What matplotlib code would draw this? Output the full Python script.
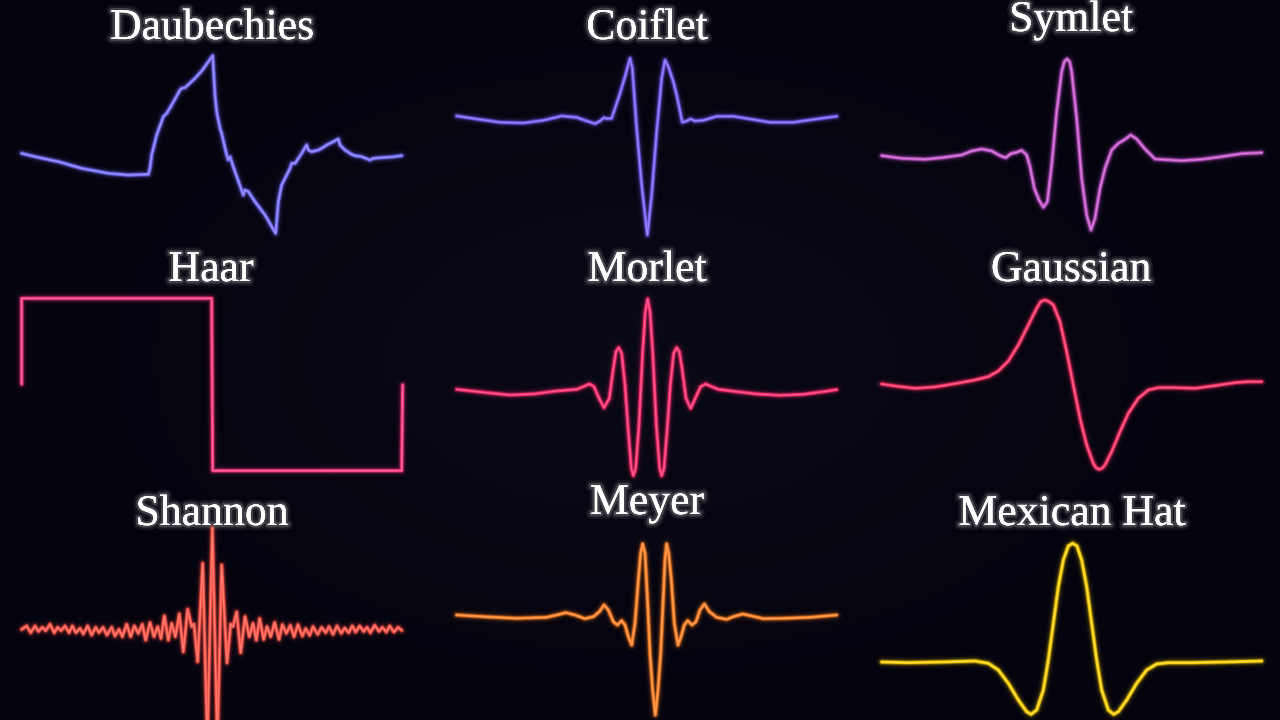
import numpy as np
import matplotlib
matplotlib.use('Agg')
import matplotlib.pyplot as plt
import matplotlib.patheffects as pe
from matplotlib.colors import to_rgb

# wavelet shapes (t = sample position, y = amplitude)
daub_t = [20, 60, 130, 200, 280, 340, 400, 405, 410, 425, 445, 455, 470, 495, 500, 510, 540, 560, 593, 600,
          605, 615, 620, 635, 640, 645, 660, 685, 690, 700, 720, 750, 782, 790, 800, 810, 825, 830, 840, 860,
          875, 880, 890, 910, 920, 935, 955, 970, 975, 990, 1010, 1020, 1040, 1065, 1075, 1100, 1130, 1160]
daub_y = [5, -5, -20, -40, -55, -60, -58, -40, 0, 60, 115, 125, 150, 195, 200, 202, 230, 252, 298, 180,
          130, 80, 65, 0, -15, -5, -50, -120, -105, -110, -140, -180, -235, -140, -90, -70, -40, -25, -25, 5,
          30, 15, 10, 15, 20, 30, 40, 48, 30, 15, 2, -2, -5, -15, -10, -8, -6, -2]

coif_t = [20, 80, 150, 220, 280, 335, 380, 410, 435, 450, 462, 470, 485, 495, 510, 525, 540, 547, 560, 575,
          592, 605, 620, 635, 645, 655, 670, 680, 697, 710, 722, 735, 760, 800, 850, 900, 960, 1030, 1100, 1160]
coif_y = [2, -7, -17, -19, -11, 2, -2, -13, -21, -13, -3, -6, -5, 25, 70, 120, 175, 145, -35, -205,
          -355, -235, -45, 115, 170, 150, 105, 65, -17, -13, -7, -13, -11, 1, 1, -7, -17, -17, -7, 1]

sym_t = [20, 80, 150, 200, 260, 290, 320, 350, 375, 392, 408, 425, 440, 455, 465, 478, 492, 505, 517, 530,
         545, 560, 568, 576, 584, 590, 605, 620, 635, 648, 660, 675, 690, 710, 730, 750, 767, 785, 810, 840,
         870, 920, 980, 1040, 1100, 1160]
sym_y = [3, -5, -8, -3, 5, 17, 23, 17, 3, -3, 9, 13, 19, 5, -30, -95, -130, -152, -135, -25,
         135, 255, 285, 293, 285, 255, 115, -65, -175, -220, -185, -95, -35, 20, 40, 52, 65, 53, 23, -7,
         -9, -12, -8, 0, 9, 12]

haar_t = [20, 20, 590, 593, 1160, 1163]
haar_y = [1, 258, 258, -259, -259, -2]

morlet_t = [20, 100, 180, 250, 320, 380, 400, 418, 432, 445, 462, 478, 490, 498, 506, 515, 525, 535, 544, 550,
            557, 567, 578, 586, 593, 600, 608, 619, 629, 635, 642, 651, 661, 671, 680, 688, 696, 708, 722, 738,
            752, 767, 785, 805, 860, 920, 990, 1060, 1120, 1160]
morlet_y = [2, -7, -15, -12, -3, 2, 10, 18, 10, -20, -53, -25, 65, 115, 127, 110, 15, -125, -235, -257,
            -235, -105, 115, 235, 273, 235, 115, -105, -235, -257, -235, -125, 15, 110, 127, 115, 65, -25, -55, -20,
            10, 18, 10, 2, -5, -12, -16, -13, -5, 1]

gauss_t = [20, 60, 120, 180, 240, 300, 340, 370, 400, 430, 460, 485, 497, 510, 522, 535, 555, 575, 595, 615,
           635, 655, 663, 672, 681, 690, 710, 735, 760, 790, 820, 850, 900, 960, 1020, 1080, 1120, 1160]
gauss_y = [3, -3, -10, -6, 4, 15, 25, 42, 72, 120, 180, 230, 250, 255, 250, 240, 190, 100, 0, -100,
           -180, -235, -248, -253, -250, -240, -200, -140, -85, -40, -15, -8, -8, -10, -2, 7, 10, 10]

shannon_t = [20, 35, 47, 60, 70, 82, 92, 105, 118, 128, 138, 150, 162, 172, 183, 195, 205, 218, 230, 242,
             252, 264, 276, 290, 300, 312, 322, 335, 347, 358, 370, 382, 392, 405, 417, 428, 438, 448, 460, 470,
             481, 493, 505, 518, 530, 537, 548, 563, 577, 592, 607, 620, 636, 647, 654, 665, 677, 690, 703, 714,
             724, 734, 746, 756, 767, 779, 792, 802, 814, 826, 837, 849, 862, 872, 884, 894, 908, 920, 932, 942,
             954, 966, 979, 989, 1001, 1012, 1022, 1034, 1046, 1056, 1066, 1079, 1092, 1102, 1114, 1124, 1137,
             1149, 1160]
shannon_y = [0, 10, -10, 10, -6, 6, -4, 15, -10, 6, -4, 10, -10, 10, -10, 3, -14, 10, -17, 6,
             -10, 6, -17, 6, -20, 0, -22, 15, -22, 10, -12, 15, -32, 20, -22, 8, -27, 40, -32, 18,
             -22, 46, -67, 60, 8, 16, -97, 198, -340, 303, -340, 193, -100, 16, 8, 52, -70, 38, -22, 18,
             -32, 32, -30, 8, -22, 20, -30, 14, -12, 12, -22, 14, -20, 2, -18, 8, -15, 6, -10, 8,
             -15, 10, -12, 4, -10, 10, -8, 10, -6, 6, -10, 12, -6, 6, -8, 10, -8, 6, -3]

meyer_t = [20, 100, 200, 290, 320, 348, 375, 405, 430, 448, 462, 475, 490, 502, 515, 525, 535, 545, 555, 565,
           572, 578, 585, 592, 600, 608, 616, 624, 632, 640, 645, 650, 656, 664, 673, 684, 693, 703, 713, 726,
           738, 750, 763, 778, 800, 830, 850, 878, 905, 940, 1000, 1080, 1160]
meyer_y = [0, -5, -10, -7, 0, 7, 0, -11, -5, 10, 30, 15, -20, -30, -17, -30, -65, -90, -25, 105,
           185, 213, 185, 55, -115, -225, -300, -225, -115, 55, 165, 213, 185, 105, -25, -90, -65, -30, -17, -30,
           -20, 15, 33, 10, -7, -13, -5, 3, -3, -11, -10, -7, 0]

mex_t = [20, 100, 200, 300, 340, 370, 400, 430, 455, 468, 485, 505, 520, 535, 550, 565, 580, 593, 606, 620,
         635, 650, 665, 680, 700, 716, 730, 755, 785, 815, 845, 880, 950, 1050, 1160]
mex_y = [0, -2, 0, 3, -4, -24, -64, -114, -149, -157, -144, -84, 6, 116, 226, 306, 348, 356, 348, 306,
         226, 116, 6, -84, -144, -157, -149, -114, -64, -24, -6, -2, -2, 0, 3]

names = ['Daubechies', 'Coiflet', 'Symlet', 'Haar', 'Morlet', 'Gaussian', 'Shannon', 'Meyer', 'Mexican Hat']
series = [(daub_t, daub_y), (coif_t, coif_y), (sym_t, sym_y), (haar_t, haar_y), (morlet_t, morlet_y),
          (gauss_t, gauss_y), (shannon_t, shannon_y), (meyer_t, meyer_y), (mex_t, mex_y)]
colors = ['#7a72ff', '#7a5df5', '#c457cb', '#ff3a80', '#ff2f6e', '#ff3468', '#ff5548', '#ff8227', '#ffd20a']

# layout in pixels: panel box (left, top, width, height), amplitude at the box top, title (x, baseline)
boxes = [(15, 45, 395, 195), (450, 45, 395, 195), (875, 45, 395, 195),
         (15, 285, 395, 195), (450, 285, 395, 195), (875, 285, 395, 195),
         (15, 520, 395, 200), (450, 530, 395, 190), (875, 530, 395, 190)]
tops = [330, 215, 335, 298, 315, 300, 328, 255, 396]
title_pos = [(212, 39), (647, 39), (1071, 31), (211, 281), (647, 281), (1071, 281),
             (212, 525), (647, 514), (1072, 525)]

W, H = 1280, 720
fig = plt.figure(figsize=(12.8, 7.2), dpi=100)

# dark background with a faint lighter centre
bg = fig.add_axes([0, 0, 1, 1])
yy, xx = np.mgrid[0:H, 0:W]
r = np.hypot((xx - 640) / 700, (yy - 360) / 420)
glow_bg = np.clip(1 - r, 0, 1) ** 1.5
base = np.array(to_rgb('#04030e'))
centre = np.array(to_rgb('#0a0916'))
img = base + (centre - base) * glow_bg[..., None]
bg.imshow(img, extent=[0, W, H, 0], aspect='auto')
bg.set_xlim(0, W)
bg.set_ylim(H, 0)
bg.axis('off')


def neon(ax, t, y, color):
    for lw, a in [(9, 0.035), (6.5, 0.07), (4.5, 0.16), (3.2, 0.4)]:
        ax.plot(t, y, color=color, lw=lw, alpha=a, solid_joinstyle='round',
                solid_capstyle='round', clip_on=False)
    ax.plot(t, y, color=color, lw=2.0, solid_joinstyle='round', solid_capstyle='round', clip_on=False)
    light = tuple(0.55 * np.array(to_rgb(color)) + 0.45)
    ax.plot(t, y, color=light, lw=0.7, alpha=0.6, solid_joinstyle='round', clip_on=False)


for name, (t, y), c, (l, tp, w, h), top, (tx, ty) in zip(names, series, colors, boxes, tops, title_pos):
    ax = fig.add_axes([l / W, 1 - (tp + h) / H, w / W, h / H])
    ax.set_xlim(0, 3 * w)
    ax.set_ylim(top - 3 * h, top)
    ax.axis('off')
    ax.patch.set_visible(False)
    neon(ax, t, y, c)
    fig.text(tx / W, 1 - ty / H, name, ha='center', va='baseline', color='white',
             fontsize=31.5, family=['Liberation Serif', 'DejaVu Serif'],
             path_effects=[pe.withStroke(linewidth=7, foreground='white', alpha=0.08),
                           pe.withStroke(linewidth=3.5, foreground='white', alpha=0.18),
                           pe.Normal()])

fig.savefig('out.png', dpi=100, facecolor='#04030e')
